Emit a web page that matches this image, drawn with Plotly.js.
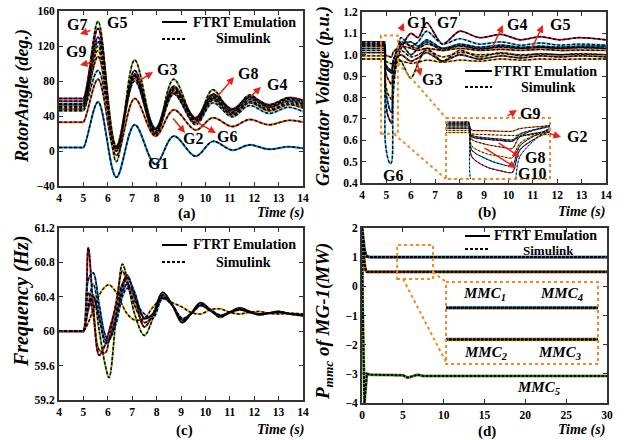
<!DOCTYPE html>
<html><head><meta charset="utf-8">
<script src="https://cdn.plot.ly/plotly-3.0.1.min.js"></script>
<style>html,body{margin:0;padding:0;background:#fff}#plot{width:627px;height:440px}</style>
</head><body><div id="plot"></div>
<script>
// ---------- (a) Rotor angle ----------
const tA = [4, 4.9, 5.0, 5.6, 6.35, 7.1, 7.95, 8.7, 9.6, 10.3, 11.1, 11.8, 12.6, 13.4, 14];
const angG1  = [4, 4, 4, 56, -30, 30, -15, 17, -6, 11, 1, 7, 2, 5, 3];
const angG2  = [33, 33, 33, 82, -5, 60, 17, 47, 24, 38, 28, 36, 30, 35, 33];
const angG3  = [51, 51, 51, 115, 2, 85, 20, 68, 33, 60, 42, 57, 47, 55, 52];
const angG4  = [57, 57, 57, 130, 0, 92, 24, 74, 37, 64, 47, 61, 52, 59, 56];
const angG5  = [54, 54, 54, 148, -12, 104, 22, 82, 35, 70, 44, 64, 50, 60, 56];
const angG6  = [46, 46, 46, 92, 4, 80, 20, 65, 30, 55, 39, 52, 43, 50, 45];
const angG7  = [60, 60, 60, 140, 3, 88, 25, 72, 38, 65, 48, 62, 53, 61, 58];
const angG8  = [53, 53, 53, 125, 5, 86, 26, 70, 36, 62, 45, 59, 50, 57, 54];
const angG9  = [48, 48, 48, 108, 0, 83, 18, 66, 32, 58, 41, 55, 46, 53, 49];
const angG10 = [50, 50, 50, 120, 6, 87, 22, 69, 34, 60, 43, 56, 48, 54, 51];

// ---------- (b) Generator voltage ----------
const tB = [4, 4.9, 4.93, 4.95, 5.05, 5.15, 5.22, 5.27, 5.45, 5.6, 6.0, 6.3, 6.65, 7.3, 8.0, 8.8, 9.7, 10.5, 11.3, 12.1, 12.9, 14];
const volG7  = [1.06, 1.06, 1.06, 0.80, 0.72, 0.69, 0.68, 0.85, 0.98, 1.03, 1.10, 1.08, 1.15, 1.05, 1.11, 1.08, 1.095, 1.07, 1.085, 1.07, 1.08, 1.07];
const volG6  = [1.055, 1.055, 1.055, 0.60, 0.52, 0.49, 0.50, 0.80, 1.00, 1.08, 1.04, 1.06, 1.11, 1.05, 1.075, 1.05, 1.06, 1.045, 1.055, 1.045, 1.05, 1.045];
const volG1  = [1.05, 1.05, 1.05, 0.85, 0.78, 0.74, 0.73, 0.88, 1.00, 1.05, 1.06, 1.04, 1.07, 1.03, 1.05, 1.035, 1.045, 1.035, 1.04, 1.035, 1.04, 1.04];
const volG2  = [1.045, 1.045, 1.045, 0.93, 0.89, 0.87, 0.86, 0.95, 1.03, 1.06, 1.04, 1.03, 1.05, 1.03, 1.04, 1.03, 1.035, 1.03, 1.035, 1.03, 1.033, 1.03];
const volG3  = [1.02, 1.02, 1.02, 0.95, 0.93, 0.92, 0.915, 0.95, 0.98, 0.97, 0.89, 0.96, 1.03, 0.97, 1.02, 0.99, 1.01, 0.995, 1.005, 1.0, 1.005, 1.0];
const volG5  = [1.01, 1.01, 1.01, 0.96, 0.94, 0.93, 0.925, 0.95, 0.99, 1.0, 0.97, 0.985, 1.01, 0.97, 1.0, 0.98, 0.995, 0.985, 0.995, 0.99, 0.995, 0.99];
const volG4  = [0.98, 0.98, 0.98, 0.97, 0.965, 0.96, 0.958, 0.96, 0.965, 0.97, 0.96, 0.965, 0.975, 0.965, 0.975, 0.97, 0.98, 0.975, 0.98, 0.978, 0.98, 0.98];
const volG8  = [1.03, 1.03, 1.03, 0.95, 0.93, 0.92, 0.915, 0.97, 1.02, 1.05, 1.0, 1.03, 1.06, 1.02, 1.045, 1.025, 1.04, 1.03, 1.035, 1.03, 1.035, 1.03];
const volG9  = [1.04, 1.04, 1.04, 1.0, 0.995, 0.99, 0.99, 1.01, 1.03, 1.04, 1.03, 1.02, 1.03, 1.02, 1.03, 1.02, 1.025, 1.02, 1.025, 1.02, 1.022, 1.02];
const volG10 = [0.995, 0.995, 0.995, 0.88, 0.82, 0.80, 0.79, 0.90, 0.99, 1.02, 0.99, 1.0, 1.02, 0.99, 1.01, 1.0, 1.005, 1.0, 1.003, 1.0, 1.002, 1.0];

// ---------- (c) Frequency ----------
const tC = [4, 4.9, 5.0, 5.2, 5.4, 5.65, 5.9, 6.05, 6.35, 6.6, 6.8, 7.1, 7.5, 7.85, 8.25, 8.65, 9.05, 9.4, 9.8, 10.2, 10.6, 11.0, 11.4, 11.8, 12.2, 12.6, 13.0, 13.5, 14];
const frq1 = [60, 60, 60, 60.97, 60.3, 59.72, 59.85, 60.0, 60.3, 60.55, 60.65, 60.4, 60.05, 60.2, 60.45, 60.3, 60.1, 60.2, 60.33, 60.25, 60.17, 60.22, 60.27, 60.23, 60.19, 60.21, 60.23, 60.2, 60.18];
const frq2 = [60, 60, 60, 60.3, 60.42, 60.0, 59.6, 59.46, 60.2, 60.78, 60.6, 60.2, 59.95, 60.15, 60.45, 60.3, 60.1, 60.2, 60.33, 60.25, 60.16, 60.22, 60.27, 60.23, 60.19, 60.21, 60.23, 60.2, 60.18];
const frq3 = [60, 60, 60, 60.6, 60.68, 60.3, 59.95, 59.9, 60.15, 60.5, 60.62, 60.45, 60.15, 60.2, 60.42, 60.3, 60.12, 60.2, 60.31, 60.25, 60.18, 60.22, 60.26, 60.23, 60.2, 60.21, 60.22, 60.2, 60.19];
const frq4 = [60, 60, 60, 60.3, 60.55, 60.2, 59.85, 59.9, 60.1, 60.4, 60.5, 60.35, 60.2, 60.15, 60.38, 60.3, 60.15, 60.2, 60.3, 60.25, 60.19, 60.21, 60.25, 60.22, 60.2, 60.21, 60.22, 60.2, 60.19];
const frq5 = [60, 60, 60, 60.45, 60.2, 59.78, 59.75, 59.9, 60.35, 60.7, 60.55, 60.3, 60.1, 60.18, 60.4, 60.3, 60.13, 60.2, 60.3, 60.24, 60.18, 60.22, 60.26, 60.22, 60.2, 60.21, 60.22, 60.2, 60.19];
const frq6 = [60, 60, 60, 60.25, 60.4, 60.15, 59.9, 59.9, 60.2, 60.45, 60.55, 60.4, 60.15, 60.2, 60.4, 60.3, 60.14, 60.2, 60.3, 60.24, 60.18, 60.22, 60.25, 60.22, 60.2, 60.21, 60.22, 60.2, 60.19];
const frq7 = [60, 60, 60, 60.1, 60.25, 60.42, 60.52, 60.54, 60.45, 60.3, 60.2, 60.13, 60.15, 60.28, 60.38, 60.33, 60.28, 60.22, 60.2, 60.25, 60.26, 60.22, 60.2, 60.22, 60.23, 60.21, 60.2, 60.21, 60.2];

// ---------- (d) MMC power ----------
const tD = [0, 0.1, 0.3, 0.45, 0.6, 1, 5, 5.6, 6.2, 6.8, 7.5, 30];
const mmc1 = [2, 1.7, 1.25, 1.08, 1.02, 1.0, 1.0, 1.0, 1.0, 1.0, 1.0, 1.0];
const mmc4 = [2, 1.7, 1.3, 1.1, 1.03, 1.01, 1.01, 1.01, 1.01, 1.01, 1.01, 1.01];
const mmc2 = [2, 1.4, 0.75, 0.55, 0.5, 0.5, 0.5, 0.5, 0.5, 0.5, 0.5, 0.5];
const mmc3 = [2, 1.4, 0.8, 0.56, 0.49, 0.49, 0.49, 0.49, 0.49, 0.49, 0.49, 0.49];
const mmc5 = [2, -1, -4, -3.6, -3.0, -3.03, -3.05, -3.13, -3.07, -3.03, -3.07, -3.07];

// zoom windows of the insets
const zoomB = {x: [4.78, 5.47], y: [0.63, 1.09]};
const zoomD = {x: [4.3, 8.7], y: [0.1, 1.42], box: [0.25, 1.42]};

const C = {blue:'#0072BD', orange:'#D95319', yellow:'#EDB120', purple:'#7E2F8E', green:'#77AC30', lblue:'#4DBEEE', dred:'#A2142F'};
const FONT = 'Liberation Serif';
const W = 627, H = 440;
const px = x => x / W, py = y => 1 - y / H;

const traces = [];
function addSet(x, list, xa, ya, cw, dw, shape, sm, dash) {
  list.forEach(s => traces.push({type:'scatter', mode:'lines', x:x, y:s[0], xaxis:xa, yaxis:ya,
    line:{color:s[1], width:cw, shape:shape, smoothing:sm}, showlegend:false, hoverinfo:'skip'}));
  list.forEach(s => traces.push({type:'scatter', mode:'lines', x:x, y:s[0], xaxis:xa, yaxis:ya,
    line:{color:'black', width:dw, dash:dash, shape:shape, smoothing:sm}, showlegend:false, hoverinfo:'skip'}));
}
const setA = [[angG1,C.blue],[angG2,C.orange],[angG3,C.yellow],[angG4,C.purple],[angG5,C.green],[angG6,C.lblue],[angG7,C.dred],[angG8,C.blue],[angG9,C.orange],[angG10,C.yellow]];
const setB = [[volG7,C.dred],[volG6,C.lblue],[volG1,C.blue],[volG2,C.orange],[volG3,C.green],[volG5,C.purple],[volG4,C.yellow],[volG8,C.blue],[volG9,C.orange],[volG10,C.yellow]];
const setC = [[frq7,C.yellow],[frq1,C.dred],[frq2,C.green],[frq3,C.blue],[frq4,C.lblue],[frq5,C.orange],[frq6,C.purple]];
const setD = [[mmc1,C.orange],[mmc4,C.lblue],[mmc2,C.purple],[mmc3,C.yellow],[mmc5,C.green]];
addSet(tA, setA, 'x', 'y', 2, 1.4, 'spline', 1, '3px,2px');
addSet(tB, setB, 'x2', 'y2', 1.8, 1.3, 'spline', 0.8, '3px,2px');
addSet(tC, setC, 'x3', 'y3', 2, 1.4, 'spline', 1, '3px,2px');
addSet(tD, setD, 'x4', 'y4', 3, 2, 'linear', 0, '3px,1px');
addSet(tB, setB, 'x5', 'y5', 1.2, 0.9, 'spline', 0.8, '2px,2px');
addSet(tD, setD, 'x6', 'y6', 3, 2, 'linear', 0, '3px,1px');

function ax(domain, range, dtick, anchor, extra) {
  return Object.assign({domain, range, dtick, anchor, showgrid:false, zeroline:false, showline:true,
    linecolor:'#333', linewidth:2, mirror:'ticks', ticks:'inside', ticklen:4, tickcolor:'#333',
    tickfont:{family:FONT, size:11.5, color:'black', weight:'bold'}, fixedrange:true}, extra || {});
}
function hid(domain, range, anchor) {
  return {domain, range, anchor, showline:false, showgrid:false, zeroline:false, showticklabels:false, ticks:'', fixedrange:true};
}

const red = '#E8231B', org = '#F08A24';
const ann = [];
function lab(text, x, y, size, opts) {
  ann.push(Object.assign({xref:'paper', yref:'paper', x:px(x), y:py(y), text, showarrow:false,
    xanchor:'center', yanchor:'middle', font:{family:FONT, size:size, color:'black', weight:'bold'}}, opts || {}));
}
function arr(x0, y0, x1, y1) {
  ann.push({xref:'paper', yref:'paper', x:px(x1), y:py(y1), ax:x0 - x1, ay:y0 - y1, text:'', showarrow:true,
    arrowhead:2, arrowsize:1, arrowwidth:1.5, arrowcolor:red});
}
// axis titles and captions
lab('<i>RotorAngle (deg.)</i>', 23, 96, 18, {textangle:-90});
lab('<i>Generator Voltage (p.u.)</i>', 324, 96, 18, {textangle:-90});
lab('<i>Frequency (Hz)</i>', 21, 301, 20, {textangle:-90});
lab('<i>P<sub>mmc</sub> of MG-1(MW)</i>', 324, 322, 19, {textangle:-90});
lab('(a)', 187, 213, 15); lab('<i>Time (s)</i>', 280, 213, 14);
lab('(b)', 487, 212, 15); lab('<i>Time (s)</i>', 581, 212, 14);
lab('(c)', 184, 430, 15); lab('<i>Time (s)</i>', 280, 430, 14);
lab('(d)', 487, 431, 15); lab('<i>Time (s)</i>', 581, 430, 14);
// legends (text)
lab('FTRT Emulation', 244, 22, 14); lab('Simulink', 243, 39, 14);
lab('FTRT Emulation', 545, 71, 14); lab('Simulink', 548, 87, 14);
lab('FTRT Emulation', 244, 245, 14); lab('Simulink', 243, 262, 14);
lab('FTRT Emulation', 545, 235, 14); lab('Simulink', 548, 250, 13);
// generator labels (a)
[['G7',77,25],['G5',117,22],['G9',76,52],['G3',167,69],['G8',248,73],['G4',277,85],['G2',193,138],['G6',227,136],['G1',158,163]]
  .forEach(g => lab(g[0], g[1], g[2], 16));
arr(92,30,80,34); arr(93,62,80,65); arr(137,82,153,72); arr(217,97,234,77); arr(250,97,261,87); arr(172,117,185,133); arr(193,120,216,133);
// generator labels (b)
[['G1',417,22],['G7',447,22],['G4',517,25],['G5',560,25],['G3',432,79],['G6',393,175],['G9',530,113],['G2',577,137],['G8',535,157],['G10',532,173]]
  .forEach(g => lab(g[0], g[1], g[2], 16));
arr(400,32,404,23); arr(416,60,421,76); arr(492,48,503,25); arr(530,52,543,25); arr(506,117,517,110); arr(548,133,561,137); arr(497,142,520,157); arr(483,147,516,168);
// MMC labels (d)
lab('<i>MMC<sub>1</sub></i>', 484, 294, 15); lab('<i>MMC<sub>4</sub></i>', 561, 294, 15);
lab('<i>MMC<sub>2</sub></i>', 486, 353, 15); lab('<i>MMC<sub>3</sub></i>', 559, 353, 15);
lab('<i>MMC<sub>5</sub></i>', 538, 388, 15);

const shapes = [];
function pl(x0, y0, x1, y1, color, width, dash) {
  shapes.push({type:'line', xref:'paper', yref:'paper', x0:px(x0), y0:py(y0), x1:px(x1), y1:py(y1), line:{color, width, dash}});
}
function prect(x0, y0, x1, y1) {
  shapes.push({type:'rect', xref:'paper', yref:'paper', x0:px(x0), y0:py(y0), x1:px(x1), y1:py(y1), line:{color:org, width:2, dash:'dot'}});
}
// legend samples
[[162,187,22,39],[465,492,71,87],[162,187,245,262],[465,490,236,249]].forEach(l => {
  pl(l[0], l[2], l[1], l[2], 'black', 2, 'solid');
  pl(l[0], l[3], l[1], l[3], 'black', 2, '3px,2px');
});
// zoom boxes
shapes.push({type:'rect', xref:'x2', yref:'y2', x0:zoomB.x[0], x1:zoomB.x[1], y0:zoomB.y[0], y1:zoomB.y[1], line:{color:org, width:2, dash:'dot'}});
shapes.push({type:'rect', xref:'x4', yref:'y4', x0:zoomD.x[0], x1:zoomD.x[1], y0:zoomD.box[0], y1:zoomD.box[1], line:{color:org, width:2, dash:'dot'}});
prect(446, 118, 550, 179);
prect(446, 282, 598, 364);
pl(398, 63, 446, 118, org, 2, 'dot'); pl(394, 134, 446, 179, org, 2, 'dot');
pl(433, 272, 446, 282, org, 2, 'dot'); pl(403, 279, 446, 362, org, 2, 'dot');

const layout = {
  width: W, height: H, margin:{l:0, r:0, t:0, b:0}, paper_bgcolor:'white', plot_bgcolor:'rgba(0,0,0,0)', showlegend:false,
  xaxis:  ax([59/W, 303/W], [4, 14], 1, 'y'),
  yaxis:  ax([py(186), py(11)], [-40, 160], 40, 'x'),
  xaxis2: ax([362/W, 606/W], [4, 14], 1, 'y2'),
  yaxis2: ax([py(183), py(12)], [0.4, 1.2], 0.1, 'x2', {tickformat:'.1f'}),
  xaxis3: ax([59/W, 303/W], [4, 14], 1, 'y3'),
  yaxis3: ax([py(400), py(228)], [59.2, 61.2], 0.4, 'x3'),
  xaxis4: ax([362/W, 607/W], [0, 30], 5, 'y4'),
  yaxis4: ax([py(403), py(228)], [-4, 2], 1, 'x4'),
  xaxis5: hid([446/W, 550/W], zoomB.x, 'y5'),
  yaxis5: hid([py(179), py(118)], zoomB.y, 'x5'),
  xaxis6: hid([446/W, 598/W], zoomD.x, 'y6'),
  yaxis6: hid([py(364), py(282)], zoomD.y, 'x6'),
  annotations: ann, shapes: shapes
};
Plotly.newPlot('plot', traces, layout, {staticPlot:true, displayModeBar:false});
</script></body></html>
